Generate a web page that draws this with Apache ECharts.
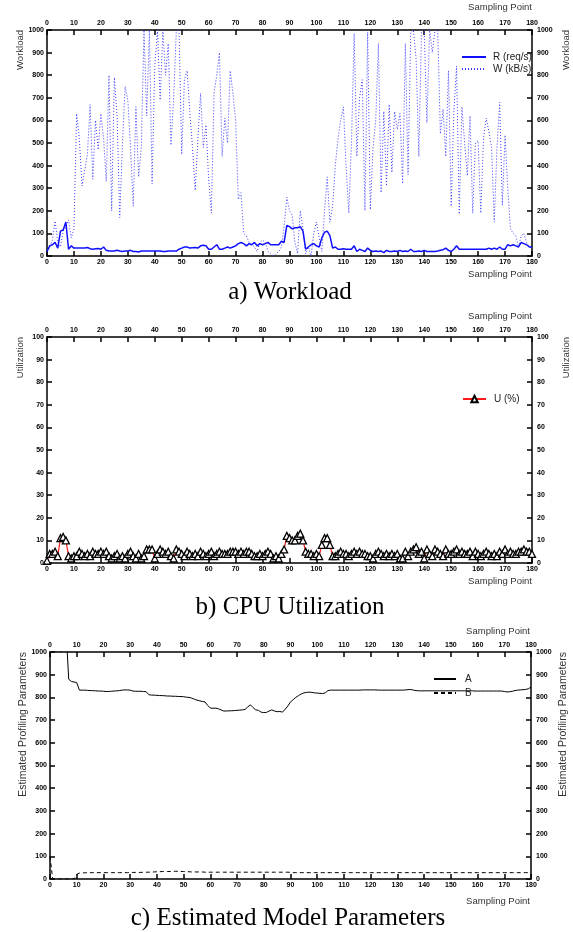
<!DOCTYPE html>
<html><head><meta charset="utf-8">
<script src="https://cdn.jsdelivr.net/npm/echarts@6/dist/echarts.min.js"></script>
<style>html,body{margin:0;padding:0;background:#fff}#c{width:573px;height:932px}</style>
</head><body><div id="c"></div>
<script>
// ---- data ----
const samples = Array.from({length: 181}, (_, i) => i);
const xTickLabels = [0,10,20,30,40,50,60,70,80,90,100,110,120,130,140,150,160,170,180];

const workloadR = [
  20,45,50,60,35,110,115,150,30,45,35,
  35,35,35,35,38,32,30,32,33,30,
  40,25,22,22,22,25,22,20,22,22,
  25,20,20,18,22,22,22,22,22,22,
  22,22,20,20,22,22,22,22,30,35,
  40,40,35,37,38,35,45,48,45,30,
  30,40,50,30,30,35,40,35,40,45,
  55,60,55,45,55,50,60,45,55,50,
  55,60,50,50,50,50,65,60,135,130,
  120,125,125,130,110,30,40,50,55,45,
  40,80,105,110,90,35,40,30,30,32,
  30,30,30,45,20,30,25,20,35,25,
  20,22,20,22,15,25,20,20,22,20,
  25,20,22,20,30,20,20,22,20,25,
  20,20,20,20,22,25,28,35,25,20,
  30,45,30,30,30,30,30,30,30,30,
  30,30,30,35,30,35,30,40,30,30,
  50,45,50,45,40,60,55,50,40,40
];
const workloadW = [
  20,40,70,155,60,40,110,130,160,80,120,
  630,520,310,380,450,670,340,600,470,630,
  520,330,800,200,790,620,170,500,750,690,
  480,220,660,350,480,1000,620,1000,320,840,
  1000,690,1000,800,940,490,700,1000,1000,450,
  780,820,640,480,290,520,720,480,580,340,
  190,720,800,900,440,610,500,820,720,600,
  250,280,100,90,60,50,40,20,60,70,
  60,20,10,0,10,20,40,130,260,200,
  180,60,10,200,120,10,40,0,100,150,
  80,20,200,350,150,220,400,520,600,660,
  400,190,500,985,440,700,780,200,990,205,
  480,600,940,280,640,310,670,370,640,560,
  630,320,940,360,990,1000,870,440,1000,1000,
  590,1000,900,1000,1000,540,650,440,820,220,
  640,840,185,660,500,355,620,190,500,510,
  190,520,610,550,480,150,480,680,225,535,
  300,120,100,90,40,90,100,60,40,40
];
const cpuU = [
  1,4,4,5,3,11,11.5,10,3,2,3,
  3,5,4,3,4,3,5,4,4,5,
  4,5,3,2,3,4,2,3,2,4,
  5,3,2,4,2,3,6,6,6,2,
  4,6,5,4,5,3,2,6,5,4,
  3,5,4,3,4,3,5,4,3,4,
  5,3,4,5,4,4,4,5,5,5,
  4,5,4,5,5,4,3,3,4,3,
  4,5,4,2,3,2,4,6,12,11,
  10,10,12,13,10,5,4,4,3,4,
  3,8,11,11,8,3,3,4,5,4,
  4,3,4,5,4,5,4,4,3,3,
  2,4,5,4,3,4,3,4,3,4,
  2,2,5,3,5,6,7,4,5,2,
  6,4,3,6,5,4,3,6,4,4,
  5,6,4,5,4,4,5,3,5,4,
  3,4,5,4,3,4,3,5,4,6,
  4,5,4,4,5,5,6,5,5,4
];
const paramA = [
  1800,1500,1300,1100,1000,1050,1100,880,870,868,865,
  832,832,832,831,830,830,829,828,828,827,
  826,826,827,828,829,830,832,833,833,832,
  828,827,827,827,826,825,812,810,810,809,
  808,808,807,806,806,805,805,804,804,803,
  801,800,797,792,788,785,782,780,765,753,
  752,753,750,745,740,740,741,741,742,743,
  744,745,747,758,767,755,745,743,735,733,
  734,740,745,740,737,738,735,748,762,780,
  790,800,808,815,820,822,823,822,820,819,
  818,817,820,830,832,832,832,832,832,832,
  832,832,832,832,832,832,833,833,833,833,
  833,833,832,832,832,832,832,832,832,832,
  832,832,833,834,835,832,830,829,829,829,
  829,829,829,829,829,829,829,829,829,829,
  829,829,829,829,829,829,829,829,828,828,
  828,828,828,828,828,828,828,828,828,826,
  824,825,827,830,832,833,834,835,838,845
];
const paramB = [
  100,0,0,0,0,0,0,0,0,0,20,
  26,27,27,28,28,28,28,28,28,28,
  28,28,28,28,28,28,28,28,28,29,
  29,29,29,29,30,30,30,31,31,32,
  32,33,33,33,33,34,34,34,33,33,
  32,32,31,31,31,31,31,30,30,30,
  30,30,30,30,30,30,30,30,30,30,
  30,30,30,30,30,30,30,30,30,30,
  30,30,30,30,30,30,30,30,30,29,
  28,28,28,28,28,28,28,28,28,28,
  28,28,28,28,28,28,28,28,28,28,
  28,28,28,28,28,28,28,28,28,28,
  28,28,28,28,28,28,28,28,28,28,
  28,28,28,28,28,28,28,28,28,28,
  28,28,28,28,28,28,28,28,28,28,
  28,28,28,28,28,28,28,28,28,28,
  28,28,28,28,28,28,28,28,28,28,
  28,28,28,28,28,28,28,28,28,28
];

// ---- chart ----
const SANS = '"Liberation Sans", Arial, sans-serif';
const SERIF = '"Liberation Serif", "Times New Roman", serif';
const pairs = arr => samples.map((x, i) => [x, arr[i]]);
const tickSet = new Set(xTickLabels);

function xAx(gi, pos) {
  return {
    type: 'value', gridIndex: gi, position: pos, min: 0, max: 180, interval: 10,
    axisLine: {show: true, onZero: false, lineStyle: {color: '#000', width: 1.5}},
    axisTick: {show: true, inside: true, length: 5, lineStyle: {color: '#000', width: 1.5}},
    axisLabel: {fontSize: 7, fontWeight: 'bold', color: '#000', margin: 3, fontFamily: SANS,
      formatter: v => tickSet.has(v) ? String(v) : ''},
    splitLine: {show: false}
  };
}
function yAx(gi, pos, max, interval) {
  return {
    type: 'value', gridIndex: gi, position: pos, min: 0, max: max, interval: interval,
    axisLine: {show: true, onZero: false, lineStyle: {color: '#000', width: 1.5}},
    axisTick: {show: true, inside: true, length: 5, lineStyle: {color: '#000', width: 1.5}},
    axisLabel: {fontSize: 7, fontWeight: 'bold', color: '#000', margin: pos === 'left' ? 3 : 5, fontFamily: SANS,
      formatter: v => String(v)},
    splitLine: {show: false}
  };
}

const grids = [
  {left: 47, right: 41, top: 30, height: 226},
  {left: 47, right: 41, top: 337, height: 226},
  {left: 50, right: 42, top: 652, height: 227}
];

function txt(text, x, y, opts) {
  return Object.assign({type: 'text', x: x, y: y, silent: true,
    style: Object.assign({text: text, font: '9.5px ' + SANS, fill: '#333', align: 'right', verticalAlign: 'middle'}, opts || {})});
}
function vtxt(text, x, y, size) {
  return {type: 'text', x: x, y: y, rotation: Math.PI / 2, silent: true,
    style: {text: text, font: (size || 9.5) + 'px ' + SANS, fill: '#333', align: 'right', verticalAlign: 'middle'}};
}

const option = {
  animation: false,
  backgroundColor: '#fff',
  grid: grids,
  xAxis: [xAx(0, 'bottom'), xAx(0, 'top'), xAx(1, 'bottom'), xAx(1, 'top'), xAx(2, 'bottom'), xAx(2, 'top')],
  yAxis: [yAx(0, 'left', 1000, 100), yAx(0, 'right', 1000, 100),
          yAx(1, 'left', 100, 10), yAx(1, 'right', 100, 10),
          yAx(2, 'left', 1000, 100), yAx(2, 'right', 1000, 100)],
  legend: [
    {data: ['R (req/s)', 'W (kB/s)'], left: 456, top: 47, orient: 'vertical', selectedMode: false,
     itemWidth: 24, itemHeight: 8, itemGap: 2, itemStyle: {opacity: 0},
     textStyle: {fontSize: 10, color: '#222', fontFamily: SANS, padding: [0, 0, 0, 2]}},
    {data: ['U (%)'], left: 457, top: 389, orient: 'vertical', selectedMode: false,
     itemWidth: 23, itemHeight: 8,
     textStyle: {fontSize: 10, color: '#222', fontFamily: SANS, padding: [0, 0, 0, 3]}},
    {data: ['A', 'B'], left: 428, top: 669, orient: 'vertical', selectedMode: false,
     itemWidth: 22, itemHeight: 8, itemGap: 4, itemStyle: {opacity: 0},
     textStyle: {fontSize: 10, color: '#222', fontFamily: SANS, padding: [0, 0, 0, 4]}}
  ],
  series: [
    {name: 'W (kB/s)', type: 'line', xAxisIndex: 0, yAxisIndex: 0, data: pairs(workloadW),
     symbol: 'none', lineStyle: {color: '#3b3bff', width: 1, type: [1, 2]}, itemStyle: {color: '#3b3bff'}},
    {name: 'R (req/s)', type: 'line', xAxisIndex: 0, yAxisIndex: 0, data: pairs(workloadR),
     symbol: 'none', lineStyle: {color: '#1010ff', width: 1.5}, itemStyle: {color: '#1010ff'}},
    {name: 'U (%)', type: 'line', xAxisIndex: 2, yAxisIndex: 2, data: pairs(cpuU),
     symbol: 'triangle', symbolSize: 7, showSymbol: true,
     lineStyle: {color: '#ff1a1a', width: 1.2},
     itemStyle: {color: '#fff', borderColor: '#000', borderWidth: 1.3}},
    {name: 'A', type: 'line', xAxisIndex: 4, yAxisIndex: 4, data: pairs(paramA),
     symbol: 'none', lineStyle: {color: '#000', width: 1}, itemStyle: {color: '#000'}},
    {name: 'B', type: 'line', xAxisIndex: 4, yAxisIndex: 4, data: pairs(paramB),
     symbol: 'none', lineStyle: {color: '#000', width: 1, type: [4, 3]}, itemStyle: {color: '#000'}}
  ],
  graphic: [
    txt('Sampling Point', 532, 7), txt('Sampling Point', 532, 274),
    txt('Sampling Point', 532, 316), txt('Sampling Point', 532, 581),
    txt('Sampling Point', 530, 631), txt('Sampling Point', 530, 901),
    vtxt('Workload', 20, 30), vtxt('Workload', 566, 30),
    vtxt('Utilization', 20, 337), vtxt('Utilization', 566, 337),
    vtxt('Estimated Profiling Parameters', 23, 652, 10.5), vtxt('Estimated Profiling Parameters', 563, 652, 10.5),
    txt('a) Workload', 290, 292, {font: '25px ' + SERIF, fill: '#000', align: 'center'}),
    txt('b) CPU Utilization', 290, 607, {font: '25px ' + SERIF, fill: '#000', align: 'center'}),
    txt('c) Estimated Model Parameters', 288, 918, {font: '25px ' + SERIF, fill: '#000', align: 'center'})
  ]
};

const chart = echarts.init(document.getElementById('c'), null, {renderer: 'canvas'});
chart.setOption(option);
</script>
</body></html>
